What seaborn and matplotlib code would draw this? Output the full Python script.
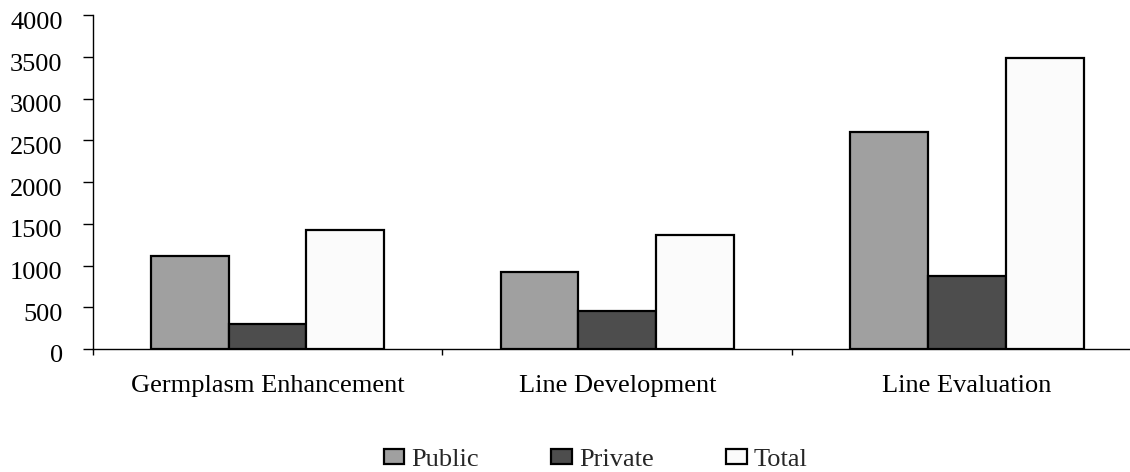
import matplotlib
matplotlib.use("Agg")
import matplotlib.pyplot as plt
import matplotlib.transforms as mtransforms
import seaborn as sns
import pandas as pd
from matplotlib.ticker import FixedLocator

# Number of activities by program stage and sector
stages = ["Germplasm Enhancement", "Line Development", "Line Evaluation"]
sectors = ["Public", "Private", "Total"]
public = [1115, 920, 2605]
private = [295, 450, 880]
total = [1425, 1370, 3490]
y_ticks = [0, 500, 1000, 1500, 2000, 2500, 3000, 3500, 4000]

colors = {"Public": "#a0a0a0", "Private": "#4d4d4d", "Total": "#fbfbfb"}

rows = []
for series_name, values in zip(sectors, [public, private, total]):
    for stage, v in zip(stages, values):
        rows.append({"Stage": stage, "Sector": series_name, "Value": v})
df = pd.DataFrame(rows)

sns.set_style("white")
plt.rcParams["font.family"] = ["Liberation Serif", "DejaVu Serif"]
FS = 19

fig = plt.figure(figsize=(11.30, 4.72), dpi=100)
ax = fig.add_axes([0.082, 0.2606, 0.9286, 0.707])

sns.barplot(data=df, x="Stage", y="Value", hue="Sector", order=stages,
            hue_order=sectors, palette=colors, width=0.667,
            edgecolor="black", linewidth=1.6, saturation=1, ax=ax)

ax.set_xlim(-0.5, 2.5)
ax.set_ylim(0, 4000)
ax.set_yticks(y_ticks)
ax.set_yticklabels([str(t) for t in y_ticks], fontsize=FS)
ax.set_xlabel("")
ax.set_ylabel("")

ax.set_xticks(range(len(stages)))
ax.set_xticklabels(stages, fontsize=FS)
ax.xaxis.set_minor_locator(FixedLocator([-0.5, 0.5, 1.5, 2.5]))
ax.tick_params(axis="x", which="major", length=0, pad=19, colors="black")
ax.tick_params(axis="x", which="minor", length=4.5, width=1.0, direction="out",
               color="black", bottom=True)
ax.tick_params(axis="y", which="major", length=7.2, width=1.0, direction="out",
               pad=14.4, colors="black", left=True)

# value labels sit slightly below their tick marks
shift = mtransforms.ScaledTranslation(0, -5 / 100, fig.dpi_scale_trans)
for lbl in ax.get_yticklabels():
    lbl.set_transform(lbl.get_transform() + shift)

for side in ["top", "right"]:
    ax.spines[side].set_visible(False)
for side in ["left", "bottom"]:
    ax.spines[side].set_color("black")
    ax.spines[side].set_linewidth(1.0)

handles, labels = ax.get_legend_handles_labels()
if ax.get_legend() is not None:
    ax.get_legend().remove()
fig.legend(handles, labels, loc="center", bbox_to_anchor=(0.527, 0.026),
           ncol=3, frameon=False, fontsize=FS, handlelength=0.78,
           handleheight=0.52, handletextpad=0.26, columnspacing=2.75,
           borderpad=0)

fig.savefig("out.png", dpi=100)
